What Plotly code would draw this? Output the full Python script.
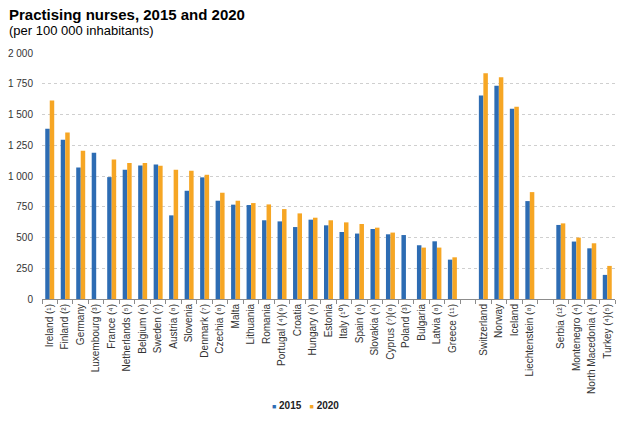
import plotly.graph_objects as go

# ---- data ----
countries = [
    "Ireland (¹)", "Finland (²)", "Germany", "Luxembourg (³)", "France (⁴)",
    "Netherlands (⁵)", "Belgium (⁶)", "Sweden (⁷)", "Austria (⁸)", "Slovenia",
    "Denmark (⁷)", "Czechia (⁸)", "Malta", "Lithuania", "Romania",
    "Portugal (⁴)(⁹)", "Croatia", "Hungary (⁸)", "Estonia", "Italy (¹⁰)",
    "Spain (⁸)", "Slovakia (⁴)", "Cyprus (⁷)(⁸)", "Poland (³)", "Bulgaria",
    "Latvia (⁸)", "Greece (¹¹)", "gap1",
    "Switzerland", "Norway", "Iceland", "Liechtenstein (⁸)", "gap2",
    "Serbia (¹²)", "Montenegro (⁴)", "North Macedonia (⁴)", "Turkey (⁴)(⁵)",
]
values_2015 = [
    1384, 1295, 1070, 1189, 991,
    1051, 1086, 1094, 680, 880,
    989, 799, 767, 764, 640,
    631, 585, 645, 599, 545,
    532, 569, 526, 520, 437,
    469, 320, None,
    1654, 1733, 1546, 796, None,
    602, 467, 412, 196,
]
values_2020 = [
    1614, 1354, 1205, None, 1135,
    1105, 1105, 1083, 1051, 1043,
    1010, 864, 799, 780, 769,
    731, 696, 661, 640, 623,
    610, 580, 540, None, 418,
    418, 339, None,
    1835, 1803, 1562, 869, None,
    615, 499, 453, 269,
]
series_names = ["2015", "2020"]
y_ticks = [0, 250, 500, 750, 1000, 1250, 1500, 1750, 2000]

BLUE = "#2d6cb3"
ORANGE = "#f6a624"
FONT = "Arial, Liberation Sans, sans-serif"

fig = go.Figure()
fig.add_trace(go.Bar(x=countries, y=values_2015, name=series_names[0],
                     marker=dict(color=BLUE, line=dict(width=0))))
fig.add_trace(go.Bar(x=countries, y=values_2020, name=series_names[1],
                     marker=dict(color=ORANGE, line=dict(width=0))))

# tick labels: gap slots stay blank
tick_text = ["" if c.startswith("gap") else c for c in countries]

L, R, T, B = 42, 2, 53, 134
W, H = 617, 433
pw = W - L - R
ph = H - T - B

def px_x(px):
    return (px - L) / pw

def px_y(py):
    return (H - B - py) / ph

fig.update_layout(
    width=W, height=H,
    margin=dict(l=L, r=R, t=T, b=B, pad=0, autoexpand=False),
    paper_bgcolor="white", plot_bgcolor="white",
    barmode="group", bargap=0.42, bargroupgap=0,
    showlegend=False,
    separators=". ",
    font=dict(family=FONT, size=10, color="#333333"),
    xaxis=dict(
        type="category", tickangle=-90, tickson="boundaries",
        tickvals=countries, ticktext=tick_text,
        ticks="outside", ticklen=4, tickcolor="#8c8c8c", tickwidth=1,
        showline=True, linecolor="#8c8c8c", linewidth=1,
        showgrid=False, tickfont=dict(size=10, color="#333333"),
        automargin=False, range=[-0.5, len(countries) - 0.5],
    ),
    yaxis=dict(
        range=[0, 2000], tickvals=y_ticks, tickformat=",d",
        showgrid=True, gridcolor="#cfcfcf", griddash="dot", gridwidth=1,
        zeroline=False, showline=False, ticks="",
        ticklabelstandoff=8, automargin=False,
        tickfont=dict(size=10, color="#333333"),
    ),
)

annotations = [
    dict(text="<b>Practising nurses, 2015 and 2020</b>", x=px_x(7), y=px_y(14),
         xanchor="left", yanchor="middle", font=dict(size=15, color="#000000")),
    dict(text="(per 100 000 inhabitants)", x=px_x(7), y=px_y(30.5),
         xanchor="left", yanchor="middle", font=dict(size=13, color="#000000")),
    dict(text=(f'<span style="color:{BLUE};font-size:7px">■</span> <b>{series_names[0]}</b>'
               f'   <span style="color:{ORANGE};font-size:7px">■</span> <b>{series_names[1]}</b>'),
         x=px_x(305), y=px_y(405), xanchor="center", yanchor="middle",
         font=dict(size=10, color="#222222")),
]
for a in annotations:
    a.update(xref="paper", yref="paper", showarrow=False)
fig.update_layout(annotations=annotations)

fig.write_html(
    "out.html",
    config={"displayModeBar": False},
    post_script="document.body.style.margin='0';document.body.style.overflow='hidden';",
)
